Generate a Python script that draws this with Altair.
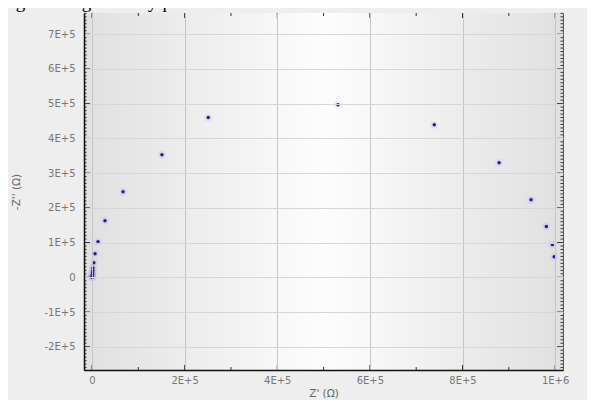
import altair as alt
import pandas as pd

# ---- data ----
z_real = [531000, 739000, 879000, 948000, 981000, 994000, 998000,
          251000, 151000, 67000, 28000, 13000, 6500, 4000,
          2000, 1800, 1300, 900, 600, 300, 100]
z_imag = [497000, 439000, 330000, 223000, 146000, 94000, 59000,
          460000, 353000, 246000, 163000, 102000, 68000, 42000,
          27000, 19000, 13000, 7000, 4000, 1500, 0]

x_ticks = [0, 200000, 400000, 600000, 800000, 1000000]
x_tick_labels = ["0", "2E+5", "4E+5", "6E+5", "8E+5", "1E+6"]
x_minor = [100000, 300000, 500000, 700000, 900000]
y_ticks = [-200000, -100000, 0, 100000, 200000, 300000, 400000, 500000, 600000, 700000]
y_tick_labels = ["-2E+5", "-1E+5", "0", "1E+5", "2E+5", "3E+5", "4E+5", "5E+5", "6E+5", "7E+5"]
y_minor = [k * 10000 for k in range(-26, 77) if k % 10 != 0]

title_text = "Fig. 2: Diagrama Nyquist sin obstrucciones"

W, H = 479, 357
FONT = "DejaVu Sans"

def lookup_expr(vals, labels):
    return "[" + ",".join("'%s'" % l for l in labels) + "][indexof([" + ",".join(str(v) for v in vals) + "], datum.value)]"

xscale = alt.Scale(domain=[-17300, 1017000], nice=False, zero=False)
yscale = alt.Scale(domain=[-267000, 761000], nice=False, zero=False)

xaxis = alt.Axis(values=x_ticks, labelExpr=lookup_expr(x_ticks, x_tick_labels),
                 title="Z' (Ω)", grid=True, gridColor="#c6c6c6", gridWidth=1,
                 ticks=False, domain=True, domainColor="#111", domainWidth=1.5,
                 labelFont=FONT, labelFontSize=10, labelColor="#777", labelPadding=5,
                 titleFont=FONT, titleFontSize=10.5, titleColor="#666", titleFontWeight="normal",
                 titleY=18, titleBaseline="top", zindex=1)
yaxis = alt.Axis(values=y_ticks, labelExpr=lookup_expr(y_ticks, y_tick_labels),
                 title="-Z'' (Ω)", grid=True, gridColor="#d6d6d6", gridWidth=1,
                 ticks=False, domain=True, domainColor="#111", domainWidth=1.5,
                 labelFont=FONT, labelFontSize=10, labelColor="#777", labelPadding=9,
                 titleFont=FONT, titleFontSize=10.5, titleColor="#666", titleFontWeight="normal",
                 titleX=-63, titleY=H / 2, titleBaseline="bottom", zindex=1)

grad = alt.Gradient(gradient="linear", x1=0, x2=1, y1=0, y2=0,
                    stops=[alt.GradientStop(color="#e0e0e0", offset=0),
                           alt.GradientStop(color="#f3f3f3", offset=0.33),
                           alt.GradientStop(color="#fdfdfd", offset=0.5),
                           alt.GradientStop(color="#f3f3f3", offset=0.67),
                           alt.GradientStop(color="#e0e0e0", offset=1)])

one = pd.DataFrame({"a": [0]})
bg = alt.Chart(one).mark_rect(fill=grad).encode(
    x=alt.value(0), x2=alt.value(W), y=alt.value(0), y2=alt.value(H))

pts = pd.DataFrame({"zr": z_real, "zi": z_imag})
X = alt.X("zr:Q", scale=xscale, axis=xaxis)
Y = alt.Y("zi:Q", scale=yscale, axis=yaxis)
halo = alt.Chart(pts).mark_circle(color="#4a4aff", opacity=0.09, size=60).encode(x=X, y=Y)
dots = alt.Chart(pts).mark_circle(color="#1c1c9c", opacity=1, size=12).encode(x=X, y=Y)

def ytick_layer(vals, length, side):
    x0 = 0 if side == "left" else W - length
    return alt.Chart(pd.DataFrame({"zi": vals})).mark_rule(color="#333", strokeWidth=1).encode(
        y=alt.Y("zi:Q", scale=yscale, axis=yaxis), x=alt.value(x0), x2=alt.value(x0 + length))

def xtick_layer(vals, length, side):
    y0 = H - length if side == "bottom" else 0
    return alt.Chart(pd.DataFrame({"zr": vals})).mark_rule(color="#333", strokeWidth=1).encode(
        x=alt.X("zr:Q", scale=xscale, axis=xaxis), y=alt.value(y0), y2=alt.value(y0 + length))

ticks = [
    ytick_layer(y_ticks, 6, "left"), ytick_layer(y_minor, 2.5, "left"),
    ytick_layer(y_ticks, 6, "right"), ytick_layer(y_minor, 2.5, "right"),
    xtick_layer(x_ticks, 5, "bottom"), xtick_layer(x_minor, 3, "bottom"),
    xtick_layer(x_ticks, 5, "top"), xtick_layer(x_minor, 3, "top"),
]

title = alt.Chart(one).mark_text(text=title_text, font="Liberation Serif", fontSize=19,
                                 align="left", baseline="alphabetic", color="#000").encode(
    x=alt.value(-84), y=alt.value(-5))

chart = alt.layer(bg, *ticks, halo, dots, title).properties(
    width=W, height=H,
    autosize=alt.AutoSizeParams(type="none"),
    padding={"left": 76, "top": 5, "right": 24, "bottom": 30},
    background="#eeeeee",
).configure_view(stroke="#555", strokeWidth=1)

chart.save("out.html", embed_options={"renderer": "svg", "actions": False})
